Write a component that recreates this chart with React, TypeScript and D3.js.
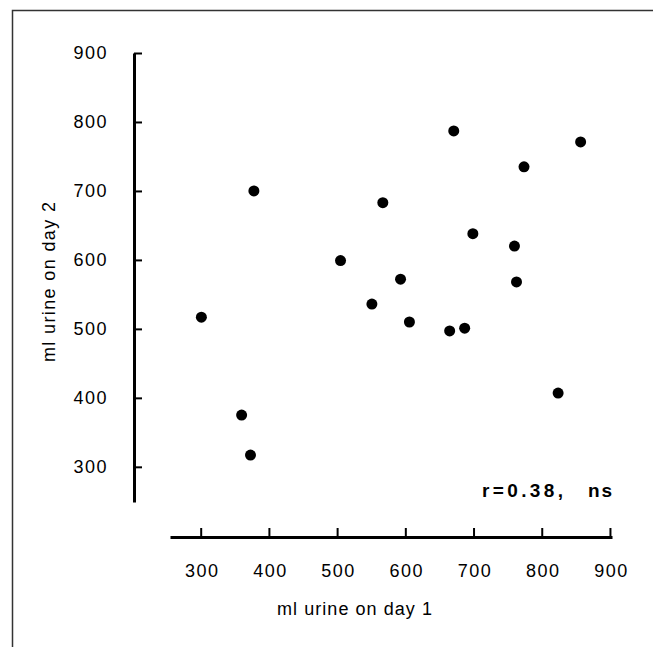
import React, { useEffect, useRef } from 'react';
import * as d3 from 'd3';

// day 1 vs day 2 urine volume (ml)
const day1 = [301, 360, 373, 378, 505, 551, 567, 593, 606, 665, 671, 687, 699, 760, 763, 774, 824, 857];
const day2 = [517, 375, 317, 700, 599, 536, 683, 572, 510, 497, 787, 501, 638, 620, 568, 735, 407, 771];
const tickValues = [300, 400, 500, 600, 700, 800, 900];
const xDomain = [255, 903];
const yDomain = [249, 900];
const xTitle = 'ml urine on day 1';
const yTitle = 'ml urine on day 2';
const statLabel = 'r=0.38,';
const sigLabel = 'ns';

const W = 653;
const H = 647;
const FONT = '"Liberation Sans", Arial, Helvetica, sans-serif';

const App = () => {
  const svgRef = useRef<SVGSVGElement>(null);

  useEffect(() => {
    const svg = d3.select(svgRef.current);
    svg.selectAll('*').remove();

    const x = d3.scaleLinear().domain(xDomain).range([170, 612]);
    const y = d3.scaleLinear().domain(yDomain).range([502, 53]);
    const axisY = 537;
    const axisX = 134;

    // frame
    svg.append('path')
      .attr('d', `M12.5,${H} V10.5 H${W}`)
      .attr('fill', 'none')
      .attr('stroke', '#333')
      .attr('stroke-width', 1.5);

    // x axis
    const gx = svg.append('g')
      .attr('transform', `translate(0,${axisY})`)
      .call(d3.axisBottom(x).tickValues(tickValues).tickSizeInner(-9).tickSizeOuter(0).tickPadding(27));
    gx.select('.domain').attr('stroke', '#000').attr('stroke-width', 3);
    gx.selectAll('.tick line').attr('stroke', '#000').attr('stroke-width', 2);
    gx.selectAll('.tick text')
      .attr('fill', '#000')
      .style('font-family', FONT)
      .style('font-size', '18px')
      .style('letter-spacing', '1.5px')
      .attr('dx', '1px');

    // y axis
    const gy = svg.append('g')
      .attr('transform', `translate(${axisX},0)`)
      .call(d3.axisLeft(y).tickValues(tickValues).tickSizeInner(-8).tickSizeOuter(0).tickPadding(26));
    gy.select('.domain').attr('stroke', '#000').attr('stroke-width', 3);
    gy.selectAll('.tick line').attr('stroke', '#000').attr('stroke-width', 2);
    gy.selectAll('.tick text')
      .attr('fill', '#000')
      .style('font-family', FONT)
      .style('font-size', '18px')
      .style('letter-spacing', '1.5px');

    // points
    svg.append('g')
      .selectAll('circle')
      .data(day1.map((d, i) => ({ a: d, b: day2[i] })))
      .enter().append('circle')
      .attr('cx', d => x(d.a))
      .attr('cy', d => y(d.b))
      .attr('r', 5.5)
      .attr('fill', '#000');

    // axis titles
    svg.append('text')
      .attr('x', 277)
      .attr('y', 615)
      .attr('textLength', 155)
      .attr('lengthAdjust', 'spacing')
      .style('font-family', FONT)
      .style('font-size', '18px')
      .text(xTitle);

    svg.append('text')
      .attr('transform', `translate(55,362) rotate(-90)`)
      .attr('textLength', 160)
      .attr('lengthAdjust', 'spacing')
      .style('font-family', FONT)
      .style('font-size', '18px')
      .text(yTitle);

    // correlation note
    svg.append('text')
      .attr('x', 482)
      .attr('y', 497)
      .attr('textLength', 81)
      .attr('lengthAdjust', 'spacing')
      .style('font-family', FONT)
      .style('font-size', '19px')
      .style('font-weight', 'bold')
      .text(statLabel);
    svg.append('text')
      .attr('x', 588)
      .attr('y', 497)
      .attr('textLength', 24)
      .attr('lengthAdjust', 'spacing')
      .style('font-family', FONT)
      .style('font-size', '19px')
      .style('font-weight', 'bold')
      .text(sigLabel);
  }, []);

  return (
    <svg
      ref={svgRef}
      width={W}
      height={H}
      style={{ position: 'absolute', left: 0, top: 0, background: '#fff' }}
    />
  );
};

export default App;
